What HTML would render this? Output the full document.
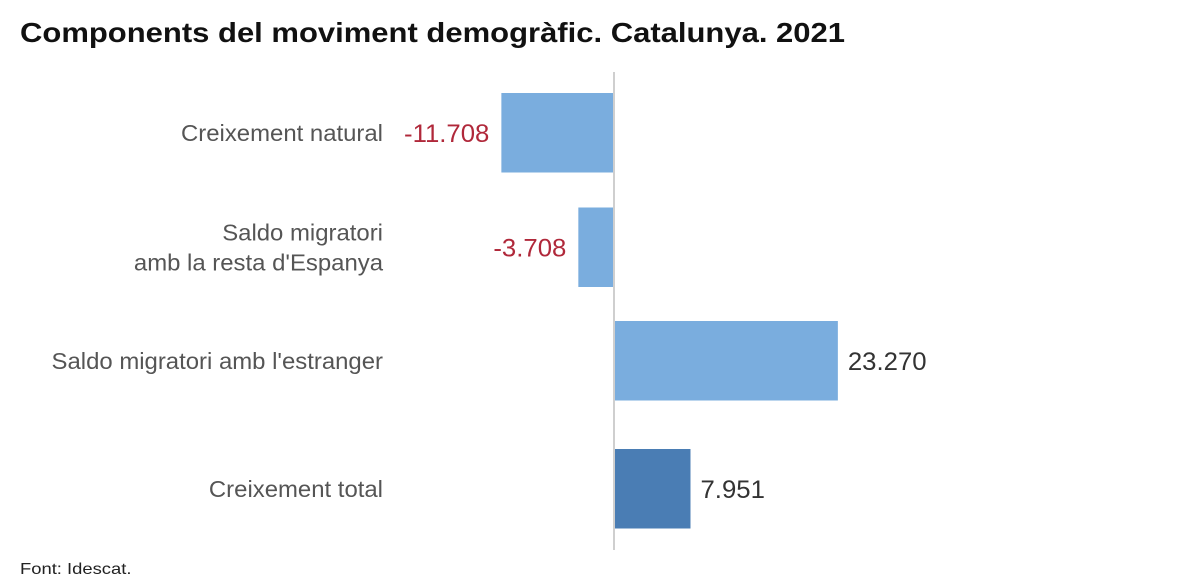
<!DOCTYPE html>
<html><head><meta charset="utf-8"><style>
body{margin:0;background:#fff;width:1200px;height:580px;overflow:hidden;font-family:"Liberation Sans",sans-serif}
</style></head><body>
<svg id="chart" width="1200" height="580" xmlns="http://www.w3.org/2000/svg">
<text x="20" y="42" font-size="28" font-weight="bold" fill="#111" textLength="825" lengthAdjust="spacingAndGlyphs">Components del moviment demogràfic. Catalunya. 2021</text>
<text transform="translate(20,574) scale(1.15,1)" x="0" y="0" font-size="16" fill="#222">Font: Idescat.</text>
<g id="bars"></g>
<line x1="614" y1="72" x2="614" y2="550" stroke="#cfcfcf" stroke-width="2"/>
</svg>
<script>
const categories = [["Creixement natural"],["Saldo migratori","amb la resta d'Espanya"],["Saldo migratori amb l'estranger"],["Creixement total"]];
const values = [-11708, -3708, 23270, 7951];
const valueLabels = ["-11.708","-3.708","23.270","7.951"];
const NS="http://www.w3.org/2000/svg";
const x0=614, scale=0.00962;
function xScale(v){return x0+v*scale;}
const tops=[93,207.5,321,449];
function yBand(i){return tops[i];}
const barH=79.5;
const g=document.getElementById('bars');
values.forEach((v,i)=>{
  const y=yBand(i), x1=xScale(Math.min(0,v)), x2=xScale(Math.max(0,v));
  const r=document.createElementNS(NS,'rect');
  
  
  r.setAttribute('x',x1);r.setAttribute('y',y);r.setAttribute('width',x2-x1);r.setAttribute('height',barH);
  r.setAttribute('fill',i===3?'#4a7db4':'#7aadde');
  g.appendChild(r);
  const t=document.createElementNS(NS,'text');
  
  
  t.setAttribute('font-size','25');
  const ty=y+barH/2+9;
  if(v<0){t.setAttribute('transform','translate('+(x1-12)+','+ty+') scale(1.03,1)');t.setAttribute('text-anchor','end');t.setAttribute('fill','#b0283a');}
  else{t.setAttribute('transform','translate('+(x2+10)+','+ty+') scale(1.03,1)');t.setAttribute('fill','#333');}
  t.setAttribute('x',0);t.setAttribute('y',0);
  t.textContent=valueLabels[i];
  g.appendChild(t);
  const lines=categories[i];
  lines.forEach((ln,j)=>{
    const c=document.createElementNS(NS,'text');
    
    
    c.setAttribute('font-size','23');c.setAttribute('fill','#555');c.setAttribute('text-anchor','end');
    const cy=y+barH/2+8+(j-(lines.length-1)/2)*30;
    c.setAttribute('transform','translate(383,'+cy+') scale(1.04,1)');
    c.setAttribute('x',0);c.setAttribute('y',0);
    c.textContent=ln;
    g.appendChild(c);
  });
});
</script>
</body></html>
